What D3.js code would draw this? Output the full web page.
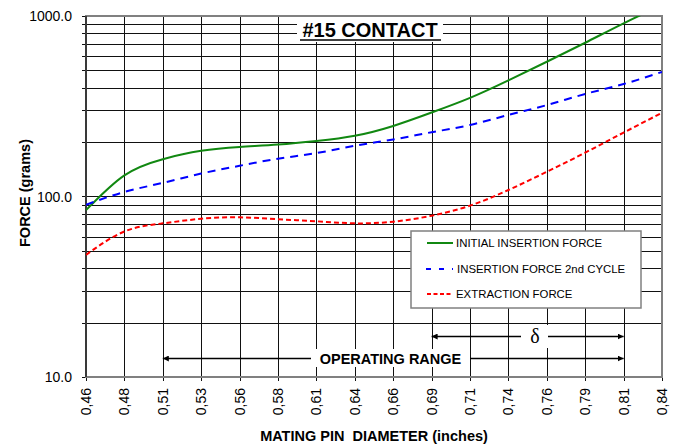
<!DOCTYPE html>
<html>
<head>
<meta charset="utf-8">
<script src="https://cdn.jsdelivr.net/npm/d3@7"></script>
<style>
  body { margin: 0; background: #fff; }
  text { font-family: 'Liberation Sans', Arial, sans-serif; }
</style>
</head>
<body>
<div id="container"></div>
<script>
// pin diameters (inches) at each grid column and their printed labels
var diameters = [0.46, 0.485, 0.51, 0.535, 0.56, 0.585, 0.61, 0.635, 0.66, 0.685, 0.71, 0.735, 0.76, 0.785, 0.81, 0.835];
var xTickLabels = ['0,46', '0,48', '0,51', '0,53', '0,56', '0,58', '0,61', '0,64', '0,66', '0,69', '0,71', '0,74', '0,76', '0,79', '0,81', '0,84'];

// forces in grams
var initialInsertion = [84, 131, 161, 179, 188, 194, 203, 217, 246, 292, 352, 440, 558, 711, 911, 1150];
var secondCycle = [90, 106, 119, 134, 148, 162, 174, 191, 207, 227, 249, 283, 321, 370, 420, 490];
var extraction = [47.5, 64, 71, 75.3, 76.7, 74.8, 72.9, 71, 72.5, 78.3, 89, 108.6, 137, 175, 226, 291];

var yGridValues = [10, 20, 30, 40, 50, 60, 70, 80, 90, 100, 200, 300, 400, 500, 600, 700, 800, 900, 1000];
var yTickLabels = [10, 100, 1000];

var operatingRange = [0.51, 0.81];
var deltaRange = [0.685, 0.81];

var seriesNames = ['INITIAL INSERTION FORCE', 'INSERTION FORCE 2nd CYCLE', 'EXTRACTION FORCE'];

const width = 686;
const height = 447;
const plotLeft = 86, plotRight = 662, plotTop = 16, plotBottom = 377;

const svg = d3.select('#container')
    .append('svg')
    .attr('width', width)
    .attr('height', height);

const x = d3.scaleLinear().domain([0.46, 0.835]).range([plotLeft, plotRight]);
const y = d3.scaleLog().domain([10, 1000]).range([plotBottom, plotTop]);

/* GRID */
svg.append('g')
    .selectAll('line')
    .data(yGridValues)
    .enter().append('line')
    .attr('x1', plotLeft - 4).attr('x2', plotRight)
    .attr('y1', d => Math.round(y(d)) + 0.5)
    .attr('y2', d => Math.round(y(d)) + 0.5)
    .attr('stroke', '#111')
    .attr('stroke-width', 1);

svg.append('g')
    .selectAll('line')
    .data(diameters)
    .enter().append('line')
    .attr('x1', d => Math.round(x(d)) + 0.5)
    .attr('x2', d => Math.round(x(d)) + 0.5)
    .attr('y1', plotTop).attr('y2', plotBottom + 4)
    .attr('stroke', '#111')
    .attr('stroke-width', 1);

// frame
svg.append('rect')
    .attr('x', plotLeft).attr('y', plotTop)
    .attr('width', plotRight - plotLeft).attr('height', plotBottom - plotTop)
    .attr('fill', 'none')
    .attr('stroke', '#808080')
    .attr('stroke-width', 2);
svg.append('line')
    .attr('x1', plotLeft).attr('x2', plotLeft)
    .attr('y1', plotTop).attr('y2', plotBottom)
    .attr('stroke', '#222').attr('stroke-width', 1.5);

/* AXES LABELS */
svg.append('g')
    .selectAll('text')
    .data(yTickLabels)
    .enter().append('text')
    .attr('x', plotLeft - 14)
    .attr('y', d => y(d) + 5)
    .attr('text-anchor', 'end')
    .style('font-size', '14px')
    .text(d => d.toFixed(1));

svg.append('g')
    .selectAll('text')
    .data(diameters)
    .enter().append('text')
    .attr('transform', d => `translate(${x(d) + 5},${plotBottom + 11}) rotate(-90)`)
    .attr('text-anchor', 'end')
    .style('font-size', '14px')
    .text((d, i) => xTickLabels[i]);

svg.append('text')
    .attr('x', 374)
    .attr('y', 441)
    .attr('text-anchor', 'middle')
    .style('font-size', '14.5px')
    .style('font-weight', 'bold')
    .text('MATING PIN\u00a0 DIAMETER (inches)');

svg.append('text')
    .attr('transform', 'translate(30,193) rotate(-90)')
    .attr('text-anchor', 'middle')
    .style('font-size', '14.5px')
    .style('font-weight', 'bold')
    .text('FORCE (grams)');

/* CURVES */
svg.append('defs').append('clipPath')
    .attr('id', 'plotClip')
    .append('rect')
    .attr('x', plotLeft).attr('y', plotTop)
    .attr('width', plotRight - plotLeft).attr('height', plotBottom - plotTop);

const line = d3.line()
    .x((d, i) => x(diameters[i]))
    .y(d => y(d))
    .curve(d3.curveNatural);

const curves = svg.append('g').attr('clip-path', 'url(#plotClip)');

curves.append('path')
    .attr('d', line(initialInsertion))
    .attr('fill', 'none')
    .attr('stroke', '#118811')
    .attr('stroke-width', 2);

curves.append('path')
    .attr('d', line(secondCycle))
    .attr('fill', 'none')
    .attr('stroke', '#0000ff')
    .attr('stroke-width', 2)
    .attr('stroke-dasharray', '8,6');

curves.append('path')
    .attr('d', line(extraction))
    .attr('fill', 'none')
    .attr('stroke', '#ff0000')
    .attr('stroke-width', 2)
    .attr('stroke-dasharray', '5,3');

/* TITLE */
svg.append('rect')
    .attr('x', 297).attr('y', 17)
    .attr('width', 146).attr('height', 25)
    .attr('fill', '#fff');
svg.append('text')
    .attr('x', 370)
    .attr('y', 37)
    .attr('text-anchor', 'middle')
    .style('font-size', '20px')
    .style('font-weight', 'bold')
    .text('#15 CONTACT');
svg.append('line')
    .attr('x1', 300).attr('x2', 441)
    .attr('y1', 40).attr('y2', 40)
    .attr('stroke', '#000').attr('stroke-width', 1.5);

/* LEGEND */
const legend = svg.append('g').attr('id', 'legend');
legend.append('rect')
    .attr('x', 411).attr('y', 231)
    .attr('width', 230).attr('height', 77)
    .attr('fill', '#fff')
    .attr('stroke', '#808080')
    .attr('stroke-width', 1.5);

const legendStyles = [
    { color: '#118811', dash: null },
    { color: '#0000ff', dash: '5,8' },
    { color: '#ff0000', dash: '4,2.5' }
];
const legendRows = [243, 269, 294];

seriesNames.forEach((name, i) => {
    legend.append('line')
        .attr('x1', i === 1 ? 426 : 427).attr('x2', 453)
        .attr('y1', legendRows[i]).attr('y2', legendRows[i])
        .attr('stroke', legendStyles[i].color)
        .attr('stroke-width', 2)
        .attr('stroke-dasharray', legendStyles[i].dash);
    legend.append('text')
        .attr('x', i === 1 ? 457 : 456)
        .attr('y', legendRows[i] + 4)
        .style('font-size', '11.4px')
        .text(name);
});

/* OPERATING RANGE / DELTA ARROWS */
svg.append('defs').append('marker')
    .attr('id', 'arrowHead')
    .attr('viewBox', '0 0 10 10')
    .attr('refX', 10).attr('refY', 5)
    .attr('markerWidth', 4).attr('markerHeight', 4)
    .attr('orient', 'auto-start-reverse')
    .append('path')
    .attr('d', 'M0,0 L10,5 L0,10 z')
    .attr('fill', '#000');

function drawArrow(range, yPos) {
    svg.append('line')
        .attr('x1', x(range[0])).attr('x2', x(range[1]))
        .attr('y1', yPos).attr('y2', yPos)
        .attr('stroke', '#000')
        .attr('stroke-width', 1.5)
        .attr('marker-start', 'url(#arrowHead)')
        .attr('marker-end', 'url(#arrowHead)');
}

drawArrow(operatingRange, 358.5);
drawArrow(deltaRange, 336.5);

svg.append('rect')
    .attr('x', 311).attr('y', 349)
    .attr('width', 159).attr('height', 18)
    .attr('fill', '#fff');
svg.append('text')
    .attr('x', 390.5)
    .attr('y', 363.5)
    .attr('text-anchor', 'middle')
    .style('font-size', '14.5px')
    .style('font-weight', 'bold')
    .text('OPERATING RANGE');

svg.append('rect')
    .attr('x', 521).attr('y', 325)
    .attr('width', 27).attr('height', 23)
    .attr('fill', '#fff');
svg.append('text')
    .attr('x', 535)
    .attr('y', 343)
    .attr('text-anchor', 'middle')
    .style('font-family', "'Liberation Serif', 'Times New Roman', serif")
    .style('font-size', '20px')
    .text('δ');
</script>
</body>
</html>
